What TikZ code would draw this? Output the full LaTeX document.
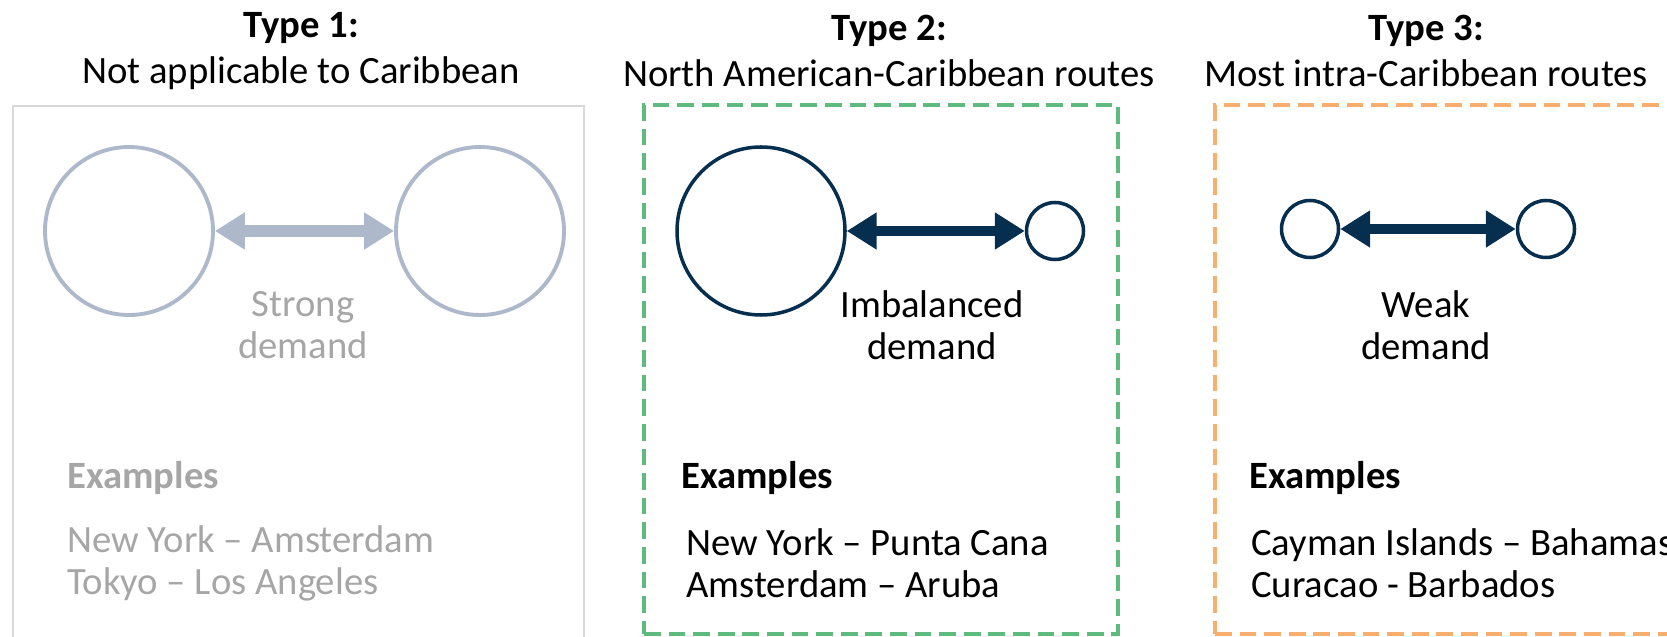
\documentclass[tikz,border=0pt]{standalone}
\usepackage{fontspec}
\setmainfont{Carlito}
\usetikzlibrary{arrows.meta}
\definecolor{dmnavy}{RGB}{6,46,78}
\definecolor{dmpale}{RGB}{173,185,202}
\definecolor{dmgreytext}{RGB}{166,166,166}
\definecolor{dmgreyline}{RGB}{217,217,217}
\definecolor{dmgreen}{RGB}{94,186,125}
\definecolor{dmorange}{RGB}{248,174,110}
\tikzset{
  dmhead/.style={align=center, font=\fontsize{22}{26.5}\selectfont, inner sep=0pt},
  dmframe/.style={draw, line width=2.2pt, dash pattern=on 9.5pt off 4.5pt, minimum width=9.48cm, minimum height=10.58cm, inner sep=0pt},
  dmcity/.style={circle, draw=dmnavy, line width=2pt, fill=white, inner sep=0pt},
  dmcitypale/.style={dmcity, draw=dmpale, line width=2.2pt},
  dmarrow/.style={{Triangle[length=17pt,width=20pt]}-{Triangle[length=17pt,width=20pt]}, line width=5.2pt, draw=dmnavy},
  dmarrowpale/.style={dmarrow, line width=6.5pt, draw=dmpale},
  dmlabel/.style={align=center, font=\fontsize{22}{23.6}\selectfont, inner sep=0pt},
  dmexhead/.style={anchor=west, font=\fontsize{22}{24}\selectfont\bfseries, inner sep=0pt},
  dmextext/.style={anchor=west, align=left, font=\fontsize{22}{24}\selectfont, inner sep=0pt}
}

\begin{document}
\begin{tikzpicture}
  \useasboundingbox (0,0) rectangle (33.34,-12.74);
  \clip (0,0) rectangle (33.34,-12.74);

  % column headings
  \node[dmhead] (h1) at (6.02,-1.02) {\textbf{Type 1:}\\Not applicable to Caribbean};
  \node[dmhead] (h2) at (17.78,-1.02) {\textbf{Type 2:}\\North American-Caribbean routes};
  \node[dmhead] (h3) at (28.52,-1.02) {\textbf{Type 3:}\\Most intra-Caribbean routes};

  % frames
  \node[draw=dmgreyline, line width=0.8pt, minimum width=11.42cm, minimum height=10.9cm, inner sep=0pt] (f1) at (5.97,-7.57) {};
  \node[dmframe, draw=dmgreen] (f2) at (17.62,-7.39) {};
  \node[dmframe, draw=dmorange] (f3) at (29.04,-7.39) {};

  % type 1: strong demand
  \node[dmcitypale, minimum size=3.36cm] (c1a) at (2.58,-4.62) {};
  \node[dmcitypale, minimum size=3.36cm] (c1b) at (9.60,-4.62) {};
  \draw[dmarrowpale] (c1a) -- (c1b);
  \node[dmlabel, text=dmgreytext] (d1) at (6.06,-6.5) {Strong\\demand};

  % type 2: imbalanced demand
  \node[dmcity, minimum size=3.36cm] (c2a) at (15.22,-4.62) {};
  \node[dmcity, minimum size=1.14cm] (c2b) at (21.10,-4.62) {};
  \draw[dmarrow] (c2a) -- (c2b);
  \node[dmlabel] (d2) at (18.64,-6.5) {Imbalanced\\demand};

  % type 3: weak demand
  \node[dmcity, minimum size=1.14cm] (c3a) at (26.20,-4.58) {};
  \node[dmcity, minimum size=1.14cm] (c3b) at (30.92,-4.58) {};
  \draw[dmarrow] (c3a) -- (c3b);
  \node[dmlabel] (d3) at (28.52,-6.5) {Weak\\demand};

  % examples
  \node[dmexhead, text=dmgreytext] (x1) at (1.34,-9.56) {Examples};
  \node[dmextext, text=dmgreytext] (e1) at (1.34,-11.26) {New York -- Amsterdam\\Tokyo -- Los Angeles};
  \node[dmexhead] (x2) at (13.62,-9.56) {Examples};
  \node[dmextext] (e2) at (13.72,-11.26) {New York -- Punta Cana\\Amsterdam -- Aruba};
  \node[dmexhead] (x3) at (24.98,-9.56) {Examples};
  \node[dmextext] (e3) at (25.02,-11.26) {Cayman Islands -- Bahamas\\Curacao - Barbados};
\end{tikzpicture}
\end{document}
